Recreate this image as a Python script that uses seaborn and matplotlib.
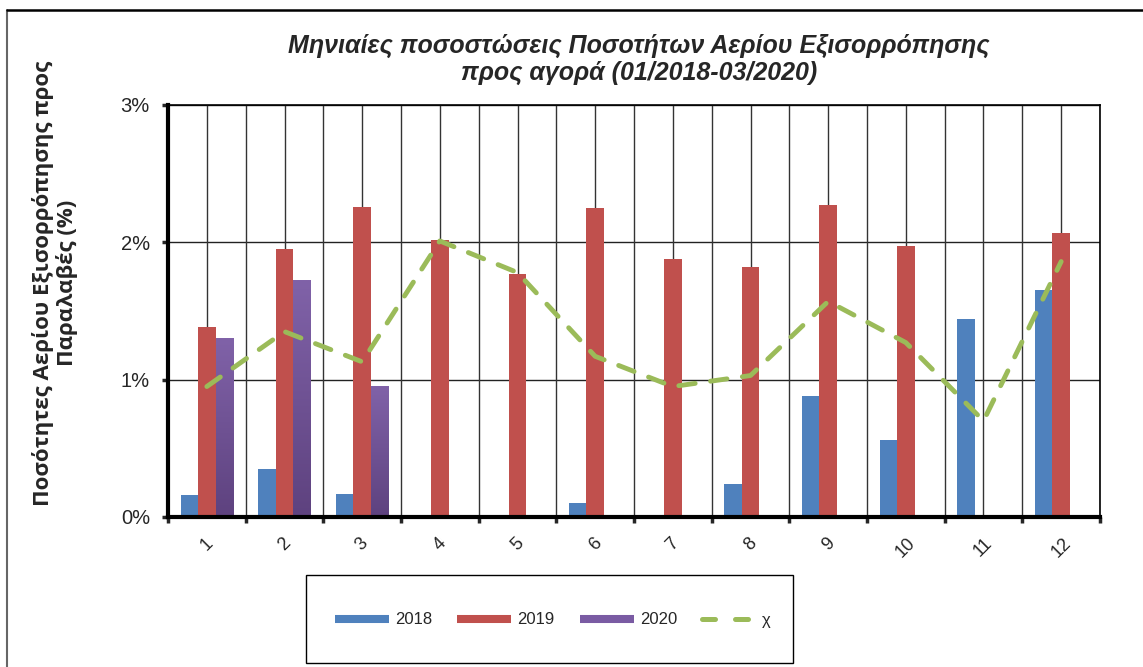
import numpy as np
import pandas as pd
import matplotlib
matplotlib.use("Agg")
import matplotlib.pyplot as plt
import seaborn as sns
from matplotlib.lines import Line2D
from matplotlib.patches import Rectangle
from matplotlib.colors import LinearSegmentedColormap

# ---------------- data ----------------
months = [str(i) for i in range(1, 13)]
years = ["2018", "2019", "2020"]
y2018 = [0.16, 0.35, 0.17, np.nan, np.nan, 0.10, np.nan, 0.24, 0.88, 0.56, 1.44, 1.65]
y2019 = [1.38, 1.95, 2.26, 2.02, 1.77, 2.25, 1.88, 1.82, 2.27, 1.97, np.nan, 2.07]
y2020 = [1.30, 1.72, 0.95, np.nan, np.nan, np.nan, np.nan, np.nan, np.nan, np.nan, np.nan, np.nan]
chi = [0.95, 1.35, 1.13, 2.01, 1.78, 1.17, 0.95, 1.03, 1.57, 1.27, 0.70, 1.86]
yticks = [0, 1, 2, 3]
ytick_labels = ["0%", "1%", "2%", "3%"]
title = "Μηνιαίες ποσοστώσεις Ποσοτήτων Αερίου Εξισορρόπησης\nπρος αγορά (01/2018-03/2020)"
ylabel = "Ποσότητες Αερίου Εξισορρόπησης προς\nΠαραλαβές (%)"
chi_label = "χ"

colors = ["#4F81BD", "#C0504D", "#7A5BA3"]
green = "#9BBB59"

df = pd.DataFrame({
    "month": months * 3,
    "year": [years[0]] * 12 + [years[1]] * 12 + [years[2]] * 12,
    "value": y2018 + y2019 + y2020,
}).dropna()

# ---------------- style ----------------
sns.set_style("white")
NARROW = ["Liberation Sans Narrow", "Liberation Sans", "DejaVu Sans"]
plt.rcParams["font.family"] = ["Liberation Sans", "DejaVu Sans"]

W, H = 1143, 667
fig = plt.figure(figsize=(W / 100, H / 100), dpi=100)
fig.patch.set_facecolor("white")


def fx(x):
    return x / W


def fy(y):
    return 1 - y / H


L, R, T, B = 168, 1100, 105, 517
ax = fig.add_axes([fx(L), fy(B), (R - L) / W, (B - T) / H])

sns.barplot(data=df, x="month", y="value", hue="year", order=months,
            hue_order=years, palette=colors, width=0.67, dodge=True,
            errorbar=None, saturation=1, linewidth=0, legend=False,
            ax=ax, zorder=3)

# purple gradient
cmap = LinearSegmentedColormap.from_list("pg", ["#5E427F", "#8062A8"])
if len(ax.containers) >= 3:
    for bar in ax.containers[2]:
        h = bar.get_height()
        if not np.isfinite(h) or h <= 0:
            continue
        x0 = bar.get_x()
        w = bar.get_width()
        grad = np.linspace(0, 1, 100).reshape(-1, 1)
        ax.imshow(grad, extent=[x0, x0 + w, 0, h], origin="lower",
                  cmap=cmap, aspect="auto", zorder=3.5)

sns.lineplot(x=np.arange(12), y=chi, ax=ax, color=green, linewidth=3.5,
             zorder=5, legend=False)
ln = ax.lines[-1]
ln.set_dashes([3.4, 3.2])
ln.set_dash_capstyle("round")

ax.set_xlim(-0.5, 11.5)
ax.set_ylim(0, 3)
ax.set_xlabel("")
ax.set_ylabel("")

# grid
for yv in yticks[1:]:
    ax.axhline(yv, color="#222222", lw=1.0, zorder=1)
for k in range(12):
    ax.axvline(k, color="#333333", lw=1.0, zorder=1)
    ax.axvline(k + 0.5, color="#333333", lw=1.0, zorder=1)

for s in ["left", "bottom"]:
    ax.spines[s].set_linewidth(3.0)
    ax.spines[s].set_color("black")
    ax.spines[s].set_zorder(6)
for s in ["top", "right"]:
    ax.spines[s].set_linewidth(1.2)
    ax.spines[s].set_color("black")

ax.set_yticks(yticks)
ax.set_yticklabels(ytick_labels, fontsize=14.5, family=["Liberation Sans", "DejaVu Sans"])
ax.tick_params(axis="y", direction="out", length=4, width=2.5, pad=9, left=True)

ax.set_xticks(np.arange(12))
ax.set_xticklabels(months, rotation=45, fontsize=13, family=["Liberation Sans", "DejaVu Sans"])
ax.set_xticks(np.arange(-0.5, 12, 1), minor=True)
ax.tick_params(axis="x", which="major", length=0, pad=13)
ax.tick_params(axis="x", which="minor", direction="out", length=4, width=2.5, bottom=True)

# title
lines = title.split("\n")
fig.text(fx(639), fy(46), lines[0], ha="center", va="center", fontsize=18,
         fontweight="bold", fontstyle="italic", family=NARROW)
fig.text(fx(639), fy(73), lines[1], ha="center", va="center", fontsize=18,
         fontweight="bold", fontstyle="italic", family=NARROW)

# y label
fig.text(fx(55), fy(283), ylabel, ha="center", va="center", rotation=90,
         fontsize=16, fontweight="bold", linespacing=1.15,
         family=["Open Sans", "DejaVu Sans"])

# outer border
fig.add_artist(Line2D([fx(7), fx(7)], [fy(9.5), 0], color="#666666", lw=1.5))
fig.add_artist(Line2D([fx(7), 1], [fy(9.5), fy(9.5)], color="black", lw=1.8))

# legend box
fig.add_artist(Rectangle((fx(306), fy(663)), (793 - 306) / W, (663 - 575) / H,
                         transform=fig.transFigure, facecolor="white",
                         edgecolor="black", lw=1.0))
handles = [
    Line2D([], [], color=colors[0], lw=5.8, solid_capstyle="butt"),
    Line2D([], [], color=colors[1], lw=5.8, solid_capstyle="butt"),
    Line2D([], [], color=colors[2], lw=5.8, solid_capstyle="butt"),
    Line2D([], [], color=green, lw=3.6, dashes=[2.6, 4.0], dash_capstyle="round"),
]
leg = fig.legend(handles, years + [chi_label], loc="center",
                 bbox_to_anchor=(fx(553), fy(620)), ncol=4, frameon=False,
                 handlelength=3.25, handletextpad=0.36, columnspacing=1.5,
                 prop={"family": NARROW, "size": 12})

fig.savefig("out.png", dpi=100, facecolor="white")
